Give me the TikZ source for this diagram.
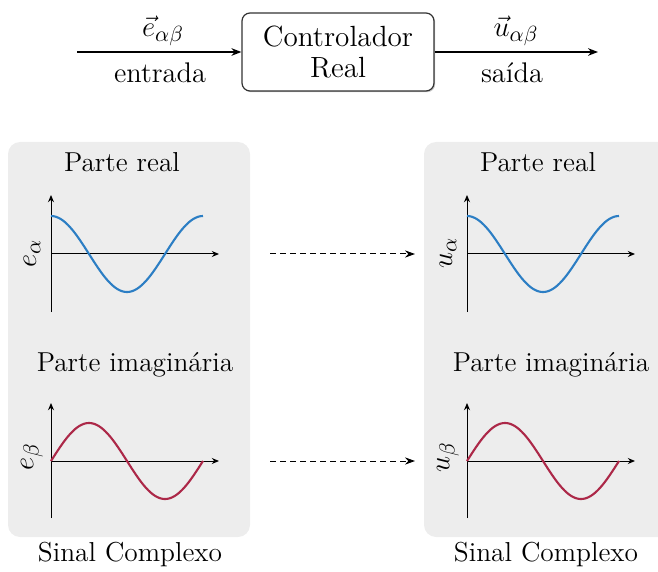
\documentclass[tikz,border=0pt]{standalone}
\usetikzlibrary{arrows.meta,shadows}
\renewcommand\defaultscriptratio{.78}
\renewcommand\defaultscriptscriptratio{.6}
\definecolor{panelgray}{RGB}{237,237,237}
\definecolor{curveblue}{RGB}{44,126,196}
\definecolor{curvered}{RGB}{172,40,72}
\tikzset{
  txt/.style={inner sep=0pt, font=\fontsize{13.7}{16.5}\selectfont},
  toptxt/.style={inner sep=0pt, font=\fontsize{14.2}{17}\selectfont},
  ctrlbox/.style={draw=black!80, line width=0.6pt, rounded corners=4pt, fill=white,
    minimum width=96pt, minimum height=39pt, align=center, inner sep=0pt,
    font=\fontsize{14.6}{15.6}\selectfont,
    drop shadow={shadow xshift=0.6pt, shadow yshift=-0.6pt, opacity=0.35, fill=black!60}},
  sigarrow/.style={line width=0.65pt, -{Stealth[length=5pt,width=3.8pt]}},
  axisline/.style={line width=0.5pt, -{Stealth[length=3.6pt,width=3pt]}},
  dasharrow/.style={line width=0.5pt, dash pattern=on 3pt off 2pt, -{Stealth[length=5pt,width=3.6pt]}},
  panel/.style={fill=panelgray, rounded corners=6pt},
  bluecurve/.style={curveblue, line width=1.05pt},
  redcurve/.style={curvered, line width=1.05pt},
}
\begin{document}
\begin{tikzpicture}[x=0.5pt, y=-0.5pt]
\useasboundingbox (0,0) rectangle (658,572);
% top block
\node[ctrlbox] (ctrl) at (338,52) {Controlador\\Real};
\coordinate (inp) at (77,52);
\coordinate (outp) at (598,52);
\draw[sigarrow] (inp) -- (ctrl.west);
\draw[sigarrow] (ctrl.east) -- (outp);
\node[toptxt] (ein) at (163,31) {$\vec{e}_{\alpha\beta}$};
\node[toptxt] (entrada) at (160,73) {entrada};
\node[toptxt] (uout) at (516,31) {$\vec{u}_{\alpha\beta}$};
\node[toptxt] (saida) at (512,73) {saída};
% panels
\fill[panel] (8,142) rectangle (250,537);
\fill[panel] (424,142) rectangle (680,537);
% left panel
\node[txt] (lreal) at (122,162) {Parte real};
\draw[axisline] (51,312) -- (51,195);
\draw[axisline] (51,254) -- (219,254);
\draw[bluecurve] plot[domain=0:152, samples=90, smooth] ({51+\x},{254-38*cos(2.36842*\x)});
\node[txt, rotate=90] (ealpha) at (32,253) {$e_\alpha$};
\node[txt] (limag) at (135,365) {Parte imaginária};
\draw[axisline] (51,518) -- (51,403);
\draw[axisline] (51,461) -- (219,461);
\draw[redcurve] plot[domain=0:152, samples=90, smooth] ({51+\x},{461-38*sin(2.36842*\x)});
\node[txt, rotate=90] (ebeta) at (32,457) {$e_\beta$};
\node[txt] (lsinal) at (130,555) {Sinal Complexo};
% dashed arrows
\coordinate (d1a) at (270,254);
\coordinate (d1b) at (415,254);
\coordinate (d2a) at (270,461);
\coordinate (d2b) at (415,461);
\draw[dasharrow] (d1a) -- (d1b);
\draw[dasharrow] (d2a) -- (d2b);
% right panel
\begin{scope}[xshift=208pt]
\node[txt] (rreal) at (122,162) {Parte real};
\draw[axisline] (51,312) -- (51,195);
\draw[axisline] (51,254) -- (219,254);
\draw[bluecurve] plot[domain=0:152, samples=90, smooth] ({51+\x},{254-38*cos(2.36842*\x)});
\node[txt, rotate=90] (ualpha) at (32,253) {$u_\alpha$};
\node[txt] (rimag) at (135,365) {Parte imaginária};
\draw[axisline] (51,518) -- (51,403);
\draw[axisline] (51,461) -- (219,461);
\draw[redcurve] plot[domain=0:152, samples=90, smooth] ({51+\x},{461-38*sin(2.36842*\x)});
\node[txt, rotate=90] (ubeta) at (32,457) {$u_\beta$};
\node[txt] (rsinal) at (130,555) {Sinal Complexo};
\end{scope}
\end{tikzpicture}
\end{document}
